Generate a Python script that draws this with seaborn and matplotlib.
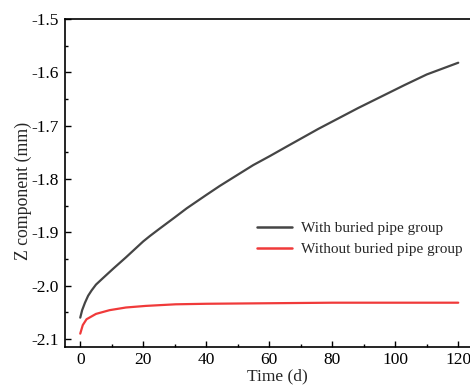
import matplotlib
matplotlib.use("Agg")
import matplotlib.pyplot as plt
import seaborn as sns
import pandas as pd
from matplotlib.ticker import MultipleLocator, FuncFormatter

# data
t_with = [0, 0.6, 1.5, 2.5, 3.6, 5, 7, 10.5, 14.5, 20, 22.1, 25, 30, 33.8, 40, 44.3, 50,
          54.9, 60.2, 65.6, 75.6, 88.2, 102.9, 110, 120]
z_with = [-2.060, -2.046, -2.032, -2.019, -2.009, -1.998, -1.987, -1.968, -1.947, -1.917,
          -1.907, -1.894, -1.872, -1.855, -1.830, -1.813, -1.792, -1.774, -1.757, -1.739,
          -1.706, -1.667, -1.624, -1.604, -1.582]
t_without = [0, 0.8, 2.0, 5, 9.3, 14.5, 20.8, 30.3, 40, 60, 80, 100, 120]
z_without = [-2.090, -2.074, -2.063, -2.053, -2.046, -2.041, -2.038, -2.035, -2.034, -2.033,
             -2.032, -2.032, -2.032]
labels = ["With buried pipe group", "Without buried pipe group"]
colors = ["#454545", "#f03a3a"]

df = pd.concat([
    pd.DataFrame({"Time": t_with, "Z": z_with, "Case": labels[0]}),
    pd.DataFrame({"Time": t_without, "Z": z_without, "Case": labels[1]}),
])

sns.set_style("ticks")
plt.rcParams["font.family"] = ["Liberation Serif", "DejaVu Serif"]

fig = plt.figure(figsize=(4.70, 3.85), dpi=100)
left_px, right_px, top_px, bot_px = 64.5, 474.0, 19.0, 346.7
ax = fig.add_axes([left_px / 470, (385 - bot_px) / 385,
                   (right_px - left_px) / 470, (bot_px - top_px) / 385])

sns.lineplot(data=df, x="Time", y="Z", hue="Case", palette=colors, linewidth=1.6,
             ax=ax, sort=True, estimator=None)

ax.set_xlim(-5, 125)
ax.set_ylim(-2.1145, -1.5)
ax.xaxis.set_major_locator(MultipleLocator(20))
ax.xaxis.set_minor_locator(MultipleLocator(10))
ax.yaxis.set_major_locator(MultipleLocator(0.1))
ax.yaxis.set_minor_locator(MultipleLocator(0.05))
ax.yaxis.set_major_formatter(FuncFormatter(lambda v, p: f"{v:.1f}"))
ax.tick_params(which="both", direction="in", labelsize=12.5, width=1, colors="black")
ax.tick_params(which="major", length=4, pad=4)
ax.tick_params(which="minor", length=2.5)
for s in ax.spines.values():
    s.set_linewidth(1.2)
    s.set_color("black")

ax.set_xlabel("Time (d)", fontsize=12.5)
ax.set_ylabel("Z component (mm)", fontsize=12.8)
ax.xaxis.set_label_coords((277 - left_px) / (right_px - left_px), -0.066)
ax.yaxis.set_label_coords(-0.08, (bot_px - 191) / (bot_px - top_px))

leg = ax.legend(title=None, frameon=False, fontsize=11, loc="upper left",
                bbox_to_anchor=(0.455, 0.40), handlelength=2.3, handletextpad=0.6,
                labelspacing=0.45, borderaxespad=0)
for line in leg.get_lines():
    line.set_linewidth(1.8)

fig.savefig("out.png", dpi=100)
